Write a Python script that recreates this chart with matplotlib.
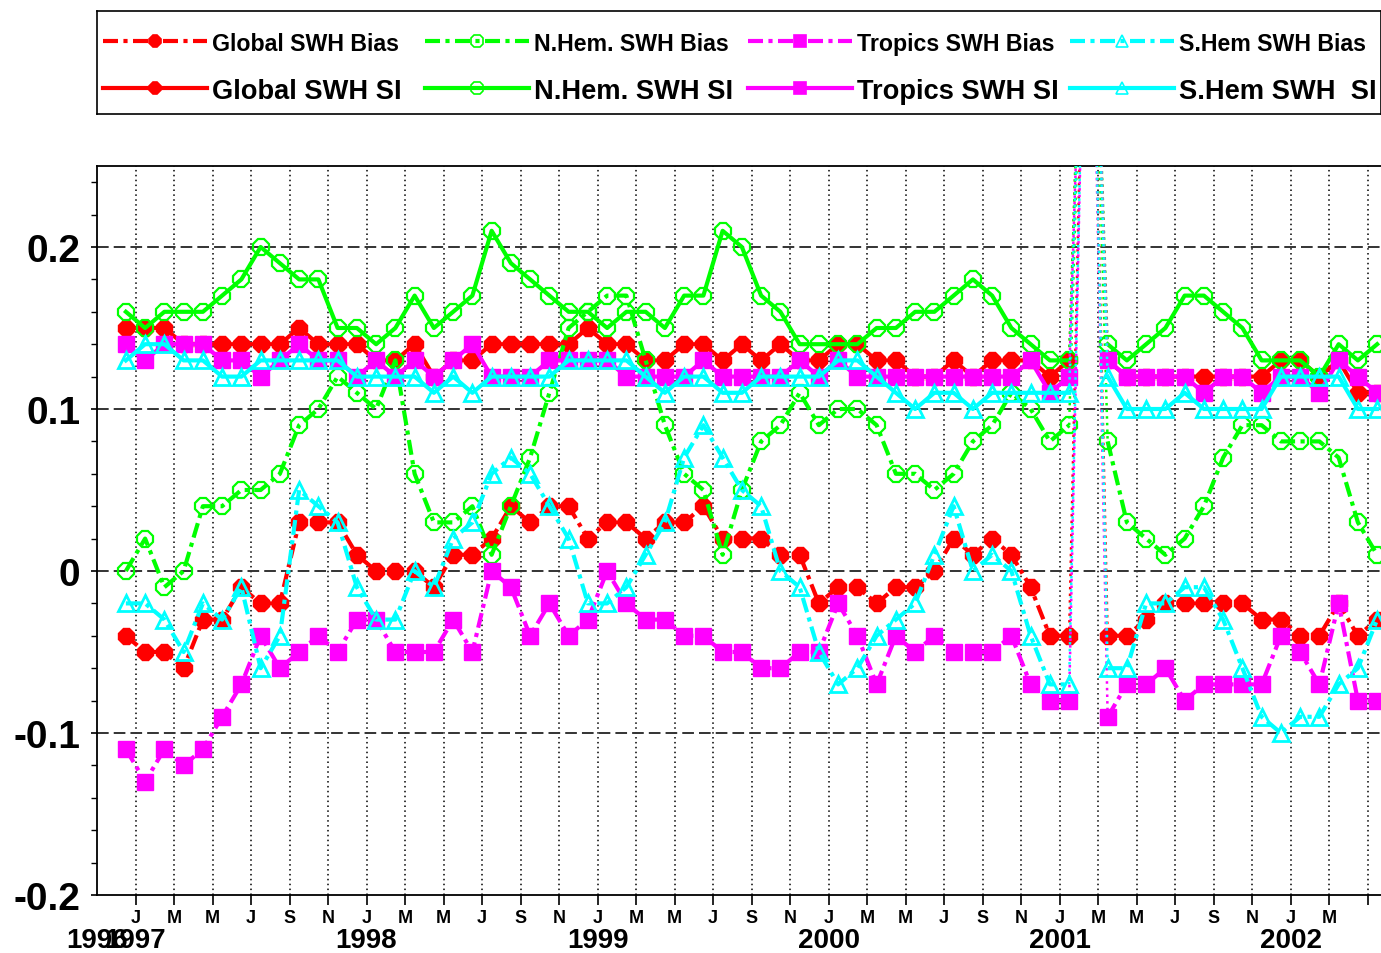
import numpy as np
import matplotlib
matplotlib.use("Agg")
import matplotlib.pyplot as plt
from matplotlib.ticker import FixedLocator, MultipleLocator

plt.rcParams['font.family'] = ['Liberation Sans', 'DejaVu Sans']
plt.rcParams['font.weight'] = 'bold'

nan = np.nan

# ---------------- data (monthly, Dec 1996 .. May 2002; Feb 2001 missing) -------------
month_letters = ["J", "M", "M", "J", "S", "N"]
year_labels = ["1996", "1997", "1998", "1999", "2000", "2001", "2002"]
ytick_values = [-0.2, -0.1, 0.0, 0.1, 0.2]
ytick_labels = ["-0.2", "-0.1", "0", "0.1", "0.2"]

series_names_bias = ["Global SWH Bias", "N.Hem. SWH Bias", "Tropics SWH Bias", "S.Hem SWH Bias"]
series_names_si = ["Global SWH SI", "N.Hem. SWH SI", "Tropics SWH SI", "S.Hem SWH  SI"]

global_si = [0.15, 0.15, 0.15, 0.14, 0.14, 0.14, 0.14, 0.14, 0.14, 0.15, 0.14, 0.14, 0.14, 0.13, 0.13, 0.14, 0.12, 0.13, 0.13, 0.14, 0.14, 0.14, 0.14,
             0.14, 0.15, 0.14, 0.14, 0.13, 0.13, 0.14, 0.14, 0.13, 0.14, 0.13, 0.14, 0.13, 0.13, 0.14, 0.14, 0.13, 0.13, 0.12, 0.12, 0.13, 0.12, 0.13,
             0.13, 0.13, 0.12, 0.13, nan, 0.13, 0.12, 0.12, 0.12, 0.12, 0.12, 0.12, 0.12, 0.12, 0.13, 0.13, 0.12, 0.13, 0.11, 0.11]
nh_si = [0.16, 0.15, 0.16, 0.16, 0.16, 0.17, 0.18, 0.20, 0.19, 0.18, 0.18, 0.15, 0.15, 0.14, 0.15, 0.17, 0.15, 0.16, 0.17, 0.21, 0.19, 0.18, 0.17,
         0.16, 0.16, 0.15, 0.16, 0.16, 0.15, 0.17, 0.17, 0.21, 0.20, 0.17, 0.16, 0.14, 0.14, 0.14, 0.14, 0.15, 0.15, 0.16, 0.16, 0.17, 0.18, 0.17,
         0.15, 0.14, 0.13, 0.13, nan, 0.14, 0.13, 0.14, 0.15, 0.17, 0.17, 0.16, 0.15, 0.13, 0.13, 0.13, 0.12, 0.14, 0.13, 0.14]
trop_si = [0.14, 0.13, 0.14, 0.14, 0.14, 0.13, 0.13, 0.12, 0.13, 0.14, 0.13, 0.13, 0.12, 0.13, 0.12, 0.13, 0.12, 0.13, 0.14, 0.12, 0.12, 0.12, 0.13,
           0.13, 0.13, 0.13, 0.12, 0.12, 0.12, 0.12, 0.13, 0.12, 0.12, 0.12, 0.12, 0.13, 0.12, 0.13, 0.12, 0.12, 0.12, 0.12, 0.12, 0.12, 0.12, 0.12,
           0.12, 0.13, 0.11, 0.12, nan, 0.13, 0.12, 0.12, 0.12, 0.12, 0.11, 0.12, 0.12, 0.11, 0.12, 0.12, 0.11, 0.13, 0.12, 0.11]
sh_si = [0.13, 0.14, 0.14, 0.13, 0.13, 0.12, 0.12, 0.13, 0.13, 0.13, 0.13, 0.13, 0.12, 0.12, 0.12, 0.12, 0.11, 0.12, 0.11, 0.12, 0.12, 0.12, 0.12,
         0.13, 0.13, 0.13, 0.13, 0.12, 0.11, 0.12, 0.12, 0.11, 0.11, 0.12, 0.12, 0.12, 0.12, 0.13, 0.13, 0.12, 0.11, 0.10, 0.11, 0.11, 0.10, 0.11,
         0.11, 0.11, 0.11, 0.11, nan, 0.12, 0.10, 0.10, 0.10, 0.11, 0.10, 0.10, 0.10, 0.10, 0.12, 0.12, 0.12, 0.12, 0.10, 0.10]

global_bias = [-0.04, -0.05, -0.05, -0.06, -0.03, -0.03, -0.01, -0.02, -0.02, 0.03, 0.03, 0.03, 0.01, 0.00, 0.00, 0.00, -0.01, 0.01, 0.01, 0.02, 0.04, 0.03, 0.04,
               0.04, 0.02, 0.03, 0.03, 0.02, 0.03, 0.03, 0.04, 0.02, 0.02, 0.02, 0.01, 0.01, -0.02, -0.01, -0.01, -0.02, -0.01, -0.01, 0.00, 0.02, 0.01, 0.02,
               0.01, -0.01, -0.04, -0.04, nan, -0.04, -0.04, -0.03, -0.02, -0.02, -0.02, -0.02, -0.02, -0.03, -0.03, -0.04, -0.04, -0.02, -0.04, -0.03]
nh_bias = [0.00, 0.02, -0.01, 0.00, 0.04, 0.04, 0.05, 0.05, 0.06, 0.09, 0.10, 0.12, 0.11, 0.10, 0.13, 0.06, 0.03, 0.03, 0.04, 0.01, 0.04, 0.07, 0.11,
           0.15, 0.16, 0.17, 0.17, 0.13, 0.09, 0.06, 0.05, 0.01, 0.05, 0.08, 0.09, 0.11, 0.09, 0.10, 0.10, 0.09, 0.06, 0.06, 0.05, 0.06, 0.08, 0.09,
           0.11, 0.10, 0.08, 0.09, nan, 0.08, 0.03, 0.02, 0.01, 0.02, 0.04, 0.07, 0.09, 0.09, 0.08, 0.08, 0.08, 0.07, 0.03, 0.01]
trop_bias = [-0.11, -0.13, -0.11, -0.12, -0.11, -0.09, -0.07, -0.04, -0.06, -0.05, -0.04, -0.05, -0.03, -0.03, -0.05, -0.05, -0.05, -0.03, -0.05, 0.00, -0.01, -0.04, -0.02,
             -0.04, -0.03, 0.00, -0.02, -0.03, -0.03, -0.04, -0.04, -0.05, -0.05, -0.06, -0.06, -0.05, -0.05, -0.02, -0.04, -0.07, -0.04, -0.05, -0.04, -0.05, -0.05, -0.05,
             -0.04, -0.07, -0.08, -0.08, nan, -0.09, -0.07, -0.07, -0.06, -0.08, -0.07, -0.07, -0.07, -0.07, -0.04, -0.05, -0.07, -0.02, -0.08, -0.08]
sh_bias = [-0.02, -0.02, -0.03, -0.05, -0.02, -0.03, -0.01, -0.06, -0.04, 0.05, 0.04, 0.03, -0.01, -0.03, -0.03, 0.00, -0.01, 0.02, 0.03, 0.06, 0.07, 0.06, 0.04,
           0.02, -0.02, -0.02, -0.01, 0.01, 0.03, 0.07, 0.09, 0.07, 0.05, 0.04, 0.00, -0.01, -0.05, -0.07, -0.06, -0.04, -0.03, -0.02, 0.01, 0.04, 0.00, 0.01,
           0.00, -0.04, -0.07, -0.07, nan, -0.06, -0.06, -0.02, -0.02, -0.01, -0.01, -0.03, -0.06, -0.09, -0.10, -0.09, -0.09, -0.07, -0.06, -0.03]

missing_index = 50          # Feb 2001 (fill value, far off scale)
missing_fill_value = 0.5

# ---------------- figure -----------------
W, H = 1381, 954
fig = plt.figure(figsize=(W / 100, H / 100), dpi=100)


def px_axes(left, top, right, bottom):
    return [left / W, 1 - bottom / H, (right - left) / W, (bottom - top) / H]


ax = fig.add_axes(px_axes(97, 167, 1381, 896))
n = len(global_si)
x = 1.5 + np.arange(n)    # months since 1 Nov 1996, mid-month
ax.set_xlim(0, 66.7)
ax.set_ylim(-0.2, 0.25)

RED, GREEN, MAG, CYAN = "#ff0000", "#00ff00", "#ff00ff", "#00ffff"
DASHDOT = (0, (3.6, 1.3, 1.0, 1.3))

styles = [
    dict(color=RED, marker="8", mfc=RED, mec=RED, ms=12, mew=1),
    dict(color=GREEN, marker="8", mfc="none", mec=GREEN, ms=13, mew=1.6),
    dict(color=MAG, marker="s", mfc=MAG, mec=MAG, ms=11, mew=1),
    dict(color=CYAN, marker="^", mfc="none", mec=CYAN, ms=12, mew=2.0),
]
si_data = [global_si, nh_si, trop_si, sh_si]
bias_data = [global_bias, nh_bias, trop_bias, sh_bias]

z = 3
for st, si, bi in zip(styles, si_data, bias_data):
    for vals, ls in ((si, "-"), (bi, DASHDOT)):
        v = np.array(vals, dtype=float)
        ax.plot(x, v, linestyle=ls, lw=3.0, color=st["color"], marker=st["marker"],
                markerfacecolor=st["mfc"], markeredgecolor=st["mec"], markersize=st["ms"],
                markeredgewidth=st["mew"], zorder=z)
        # thin dotted connectors to the off-scale fill value
        k = missing_index
        xs = x[k - 1:k + 2]
        ys = [v[k - 1], missing_fill_value, v[k + 1]]
        ax.plot(xs, ys, linestyle=":", lw=1.8, color=st["color"], zorder=z - 0.05)
        z += 0.1

# grid
ax.xaxis.set_major_locator(FixedLocator(np.arange(2, 67, 2)))
xt_labels = []
for i, t in enumerate(np.arange(2, 67, 2)):
    xt_labels.append(month_letters[i % 6] if t < 66 else "")
ax.set_xticklabels(xt_labels)
for t in np.arange(2, 67, 2):
    ax.axvline(t, color="black", lw=1.1, linestyle=(0, (1, 2.2)), zorder=1)
for yv in ytick_values[1:]:
    ax.axhline(yv, color="#333333", lw=1.4, linestyle=(0, (6, 2.6)), zorder=1)

ax.set_yticks(ytick_values)
ax.set_yticklabels(ytick_labels)
ax.yaxis.set_minor_locator(MultipleLocator(0.02))
ax.tick_params(axis="x", which="major", direction="out", length=7, width=1.2,
               labelsize=13, pad=3)
ax.tick_params(axis="y", which="major", direction="out", length=4, width=1.2,
               labelsize=28, pad=8)
ax.tick_params(axis="y", which="minor", direction="out", length=4, width=1.0)
for lab in ax.get_xticklabels() + ax.get_yticklabels():
    lab.set_fontweight("bold")
for s in ("left", "bottom", "top"):
    ax.spines[s].set_linewidth(1.3)
ax.spines["right"].set_visible(False)

# year labels
year_pos = [0] + [2 + 12 * k for k in range(len(year_labels) - 1)]
for yp, yl in zip(year_pos, year_labels):
    ax.text(yp, -(941 - 896) / (896 - 167), yl, transform=ax.get_xaxis_transform(),
            ha="center", va="center", fontsize=20, fontweight="bold")

# ---------------- legend box -----------------
lax = fig.add_axes(px_axes(97, 12, 1381, 115))
lax.set_xlim(97, 1381)
lax.set_ylim(115, 12)
lax.set_xticks([])
lax.set_yticks([])
for s in lax.spines.values():
    s.set_linewidth(1.2)

col_x = [103, 425, 748, 1070]
row_y = [42, 89]
handle_len = 104
leg_ms = [9, 10, 9, 9]
for j, st in enumerate(styles):
    for r, (ls, label, fs) in enumerate(((DASHDOT, series_names_bias[j], 16.7),
                                         ("-", series_names_si[j], 19.6))):
        x0 = col_x[j]
        lax.plot([x0, x0 + handle_len / 2, x0 + handle_len], [row_y[r]] * 3,
                 linestyle=ls, lw=3.0, color=st["color"], marker=st["marker"],
                 markevery=[1], markerfacecolor=st["mfc"], markeredgecolor=st["mec"],
                 markersize=leg_ms[j], markeredgewidth=1.2, clip_on=False)
        lax.text(x0 + handle_len + 5, row_y[r], label, ha="left", va="center_baseline",
                 fontsize=fs, fontweight="bold")

fig.savefig("out.png", dpi=100)
